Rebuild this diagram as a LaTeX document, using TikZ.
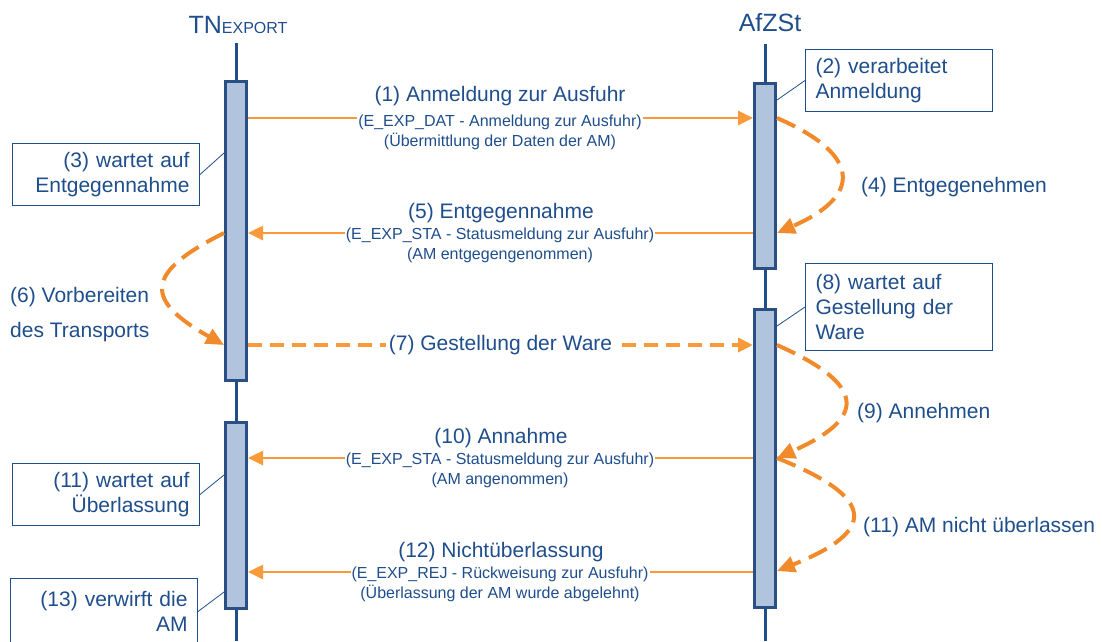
\documentclass[tikz,border=0pt]{standalone}
\usepackage{fontspec}
\setmainfont{Liberation Sans}
\usepackage{xcolor}
\usepackage{tikz}
\usetikzlibrary{arrows.meta,positioning}
\definecolor{afblue}{HTML}{1F4E8C}
\definecolor{afbar}{HTML}{B0C4DE}
\definecolor{afbarline}{HTML}{2A4F85}
\definecolor{aforange}{HTML}{F99B3B}
\definecolor{afdark}{HTML}{F08A2A}
\tikzset{
  life/.style={draw=afblue,line width=3pt},
  lifehead/.style={text=afblue,font=\fontsize{25}{28}\selectfont,inner sep=0pt,anchor=base},
  act/.style={draw=afbarline,fill=afbar,line width=3pt,minimum width=21pt,inner sep=0pt},
  note/.style={draw=afblue,line width=1pt,fill=white,text=afblue,inner xsep=10pt,inner ysep=2pt,text width=167pt,font=\fontsize{21}{25}\selectfont,anchor=north west,minimum height=62pt},
  link/.style={draw=afblue,line width=0.8pt},
  msg/.style={-{Triangle[length=15pt,width=14pt]},draw=aforange,line width=2.6pt},
  dmsg/.style={msg,line width=4pt,dash pattern=on 14pt off 8pt},
  loopar/.style={-{Triangle[length=18pt,width=16pt]},draw=afdark,line width=4pt,dash pattern=on 20pt off 9pt},
  lbl/.style={text=afblue,font=\fontsize{21}{25}\selectfont,inner sep=1pt},
  sub/.style={text=afblue,fill=white,align=center,font=\fontsize{16}{20}\selectfont,inner sep=1pt},
}

\begin{document}
\begin{tikzpicture}[x=1pt,y=-1pt]
  \useasboundingbox (0,0) rectangle (1102,641);
  \clip (0,0) rectangle (1102,641);
  \coordinate (bot) at (0,641);

  % lifelines
  \node[lifehead] (tn) at (238,33) {TN{\fontsize{16}{16}\selectfont EXPORT}};
  \node[lifehead] (afz) at (770,31) {AfZSt};
  \path (236,0) coordinate (xl) (765,0) coordinate (xr);
  \draw[life] (tn.base -| xl) ++(0,10) -- (bot -| xl);
  \draw[life] (afz.base -| xr) ++(0,13) -- (bot -| xr);

  % activations
  \node[act,minimum height=299pt] (actL1) at (236,231) {};
  \node[act,minimum height=186pt] (actL2) at (236,515.5) {};
  \node[act,minimum height=185pt] (actR1) at (765,176) {};
  \node[act,minimum height=298pt] (actR2) at (765,458.5) {};

  % notes
  \node[note,align=left] (n2) at (805,49) {(2) verarbeitet\\Anmeldung};
  \node[note,align=right] (n3) at (12,143) {(3) wartet auf\\Entgegennahme};
  \node[note,align=left,minimum height=87pt] (n8) at (805,263) {(8) wartet auf\\Gestellung der\\Ware};
  \node[note,align=right] (n11) at (12,463) {(11) wartet auf\\Überlassung};
  \node[note,align=right,minimum height=66pt] (n13) at (10,578) {(13) verwirft die\\AM};
  \draw[link] (n2.west) -- ([yshift=-18pt]actR1.north east);
  \draw[link] (n3.east) -- ([yshift=-73pt]actL1.north west);
  \draw[link] (n8.west) -- ([yshift=-18pt]actR2.north east);
  \draw[link] (n11.east) -- ([yshift=-54pt]actL2.north west);
  \draw[link] (n13.east) -- ([yshift=-171pt]actL2.north west);

  % messages
  \draw[msg] (actL1.east |- 0,118) -- (actR1.west |- 0,118);
  \node[lbl] (m1) at (500,96) {(1) Anmeldung zur Ausfuhr};
  \node[sub] (s1) at (500,132) {(E\_EXP\_DAT - Anmeldung zur Ausfuhr)\\(Übermittlung der Daten der AM)};
  \foreach \y/\a/\b/\m/\s in {
      233/actR1/actL1/{(5) Entgegennahme}/{(E\_EXP\_STA - Statusmeldung zur Ausfuhr)\\(AM entgegengenommen)},
      458/actR2/actL2/{(10) Annahme}/{(E\_EXP\_STA - Statusmeldung zur Ausfuhr)\\(AM angenommen)},
      572/actR2/actL2/{(12) Nichtüberlassung}/{(E\_EXP\_REJ - Rückweisung zur Ausfuhr)\\(Überlassung der AM wurde abgelehnt)}} {
    \draw[msg] (\a.west |- 0,\y) -- (\b.east |- 0,\y);
    \node[lbl] at (501,\y-20) {\m};
    \node[sub] at (500,\y+12) {\s};
  }
  \draw[dmsg] (actL1.east |- 0,345) -- (actR2.west |- 0,345)
    node[lbl,midway,fill=white,inner xsep=3pt] (m7) {(7) Gestellung der Ware};

  % own steps
  \draw[loopar] (actR1.east |- 0,118) .. controls +(85,37) and +(85,-37) .. (actR1.east |- 0,233);
  \node[lbl,anchor=west] (m4) at (860,187) {(4) Entgegenehmen};
  \draw[loopar] (actL1.west |- 0,233) .. controls +(-80,40) and +(-80,-45) .. (actL1.west |- 0,345);
  \node[lbl,anchor=west,align=left,font=\fontsize{21}{35}\selectfont] (m6) at (9,314.5) {(6) Vorbereiten\\des Transports};
  \draw[loopar] (actR2.east |- 0,345) .. controls +(90,40) and +(90,-40) .. (actR2.east |- 0,458);
  \node[lbl,anchor=west] (m9) at (856,413) {(9) Annehmen};
  \draw[loopar] (actR2.east |- 0,458) .. controls +(100,40) and +(100,-40) .. (actR2.east |- 0,571);
  \node[lbl,anchor=west] (m11) at (862,527) {(11) AM nicht überlassen};
\end{tikzpicture}
\end{document}
